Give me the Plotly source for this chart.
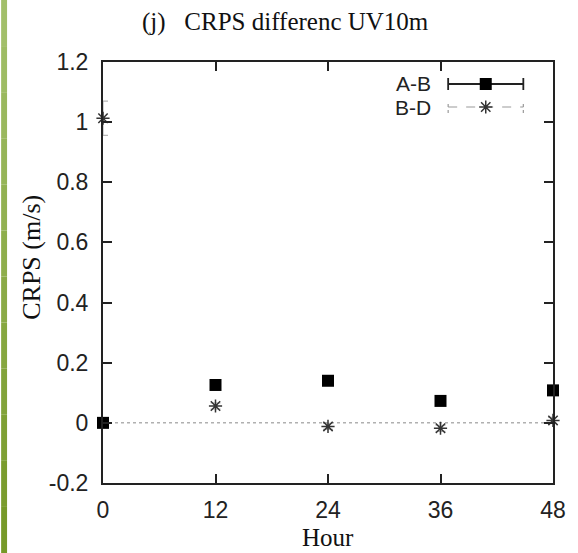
import plotly.graph_objects as go

# ---- data ----
hours = [0, 12, 24, 36, 48]
ab_vals = [0.0, 0.126, 0.140, 0.073, 0.108]
ab_errs = [0.008, 0.010, 0.010, 0.010, 0.010]
bd_vals = [1.013, 0.056, -0.012, -0.018, 0.008]
bd_errs = [0.057, 0.010, 0.010, 0.010, 0.010]
x_ticks = [0, 12, 24, 36, 48]
y_ticks = [-0.2, 0, 0.2, 0.4, 0.6, 0.8, 1.0, 1.2]
y_ticktext = ["-0.2", "0", "0.2", "0.4", "0.6", "0.8", "1", "1.2"]
series_names = ["A-B", "B-D"]

W, H = 578, 553
L, R, T, B = 103, 20, 62, 70
PW, PH = W - L - R, H - T - B

def px_x(p):
    return (p - L) / PW

def px_y(p):
    return 1 - (p - T) / PH

serif = "Liberation Serif, Times New Roman, serif"
sans = "Liberation Sans, Arial, sans-serif"

fig = go.Figure()

# zero axis (dotted)
fig.add_trace(go.Scatter(
    x=[x_ticks[0], x_ticks[-1]], y=[0, 0], mode="lines",
    line=dict(color="#b0b0b0", width=1.5, dash="dot"),
    showlegend=False, hoverinfo="skip"))

# A-B
fig.add_trace(go.Scatter(
    x=hours, y=ab_vals, mode="markers", name=series_names[0],
    marker=dict(symbol="square", size=12, color="black"),
    error_y=dict(type="data", array=ab_errs, color="black", thickness=1.5, width=5),
    cliponaxis=False, showlegend=False))

# B-D
fig.add_trace(go.Scatter(
    x=hours, y=bd_vals, mode="markers", name=series_names[1],
    marker=dict(symbol="asterisk-open", size=11, color="#333333",
                line=dict(color="#333333", width=1.5)),
    error_y=dict(type="data", array=bd_errs, color="#b5b5b5", thickness=1.2, width=5),
    cliponaxis=False, showlegend=False))

# ---- custom legend (text left, sample right) on overlay axes ----
lx0, lx1, lxc = px_x(452), px_x(528), px_x(490)
ly_ab, ly_bd = px_y(84), px_y(107)
wh = 6 / PH

fig.add_trace(go.Scatter(
    x=[lxc], y=[ly_ab], xaxis="x2", yaxis="y2", mode="markers",
    marker=dict(symbol="square", size=12, color="black"),
    error_x=dict(type="constant", value=(lx1 - lx0) / 2, color="#222222",
                 thickness=1.8, width=6),
    showlegend=False, hoverinfo="skip"))
fig.add_trace(go.Scatter(
    x=[lx0, lx1], y=[ly_bd, ly_bd], xaxis="x2", yaxis="y2", mode="lines",
    line=dict(color="#9a9a9a", width=1.2, dash="dash"),
    showlegend=False, hoverinfo="skip"))
fig.add_trace(go.Scatter(
    x=[lx0, lx0, None, lx1, lx1], y=[ly_bd - wh, ly_bd + wh, None, ly_bd - wh, ly_bd + wh],
    xaxis="x2", yaxis="y2", mode="lines",
    line=dict(color="#9a9a9a", width=1.2, dash="dot"),
    showlegend=False, hoverinfo="skip"))
fig.add_trace(go.Scatter(
    x=[lxc], y=[ly_bd], xaxis="x2", yaxis="y2", mode="markers",
    marker=dict(symbol="asterisk-open", size=11, color="#333333",
                line=dict(color="#333333", width=1.5)),
    showlegend=False, hoverinfo="skip"))

annotations = [
    dict(text="(j)&nbsp;&nbsp;&nbsp;CRPS differenc UV10m", xref="paper", yref="paper",
         x=px_x(288), y=px_y(22), showarrow=False, xanchor="center", yanchor="middle",
         font=dict(family=serif, size=25, color="#111111")),
    dict(text="Hour", xref="paper", yref="paper", x=px_x(331), y=px_y(537),
         showarrow=False, xanchor="center", yanchor="middle",
         font=dict(family=serif, size=25, color="#111111")),
    dict(text="CRPS (m/s)", xref="paper", yref="paper", x=px_x(30), y=px_y(257),
         showarrow=False, xanchor="center", yanchor="middle", textangle=-90,
         font=dict(family=serif, size=26, color="#111111")),
    dict(text=series_names[0], xref="paper", yref="paper", x=px_x(437), y=ly_ab,
         showarrow=False, xanchor="right", yanchor="middle",
         font=dict(family=sans, size=21, color="#222222")),
    dict(text=series_names[1], xref="paper", yref="paper", x=px_x(437), y=ly_bd,
         showarrow=False, xanchor="right", yanchor="middle",
         font=dict(family=sans, size=21, color="#222222")),
]

# green bar on the left edge (decoration)
shapes = []
greens = ["#a2bf6a", "#9ebc64", "#9ab85e", "#96b558", "#92b152", "#8eae4c", "#8aaa46",
          "#86a740", "#82a33a", "#7ea034", "#7a9c2e", "#769928"]
n = len(greens)
for i, c in enumerate(greens):
    shapes.append(dict(type="rect", xref="paper", yref="paper", layer="below",
                       x0=px_x(0), x1=px_x(6), y0=px_y(H * (i + 1) / n), y1=px_y(H * i / n),
                       fillcolor=c, line=dict(width=0)))

fig.update_layout(
    width=W, height=H,
    margin=dict(l=L, r=R, t=T, b=B),
    paper_bgcolor="white", plot_bgcolor="white",
    showlegend=False,
    annotations=annotations,
    shapes=shapes,
    xaxis=dict(range=[0, 48], tickvals=x_ticks, ticktext=[str(v) for v in x_ticks],
               ticks="inside", ticklen=9, tickwidth=1.5, tickcolor="#222222",
               showline=True, linecolor="#222222", linewidth=2, mirror="ticks",
               showgrid=False, zeroline=False, ticklabelstandoff=5,
               tickfont=dict(family=sans, size=23, color="#222222")),
    yaxis=dict(range=[-0.2, 1.2], tickvals=y_ticks, ticktext=y_ticktext,
               ticks="inside", ticklen=9, tickwidth=1.5, tickcolor="#222222",
               showline=True, linecolor="#222222", linewidth=2, mirror="ticks",
               showgrid=False, zeroline=False, ticklabelstandoff=8,
               tickfont=dict(family=sans, size=23, color="#222222")),
    xaxis2=dict(overlaying="x", range=[0, 1], visible=False),
    yaxis2=dict(overlaying="y", range=[0, 1], visible=False),
)

fig.write_html("out.html", config={"displayModeBar": False},
               post_script="document.body.style.margin='0';document.body.style.overflow='hidden';")
